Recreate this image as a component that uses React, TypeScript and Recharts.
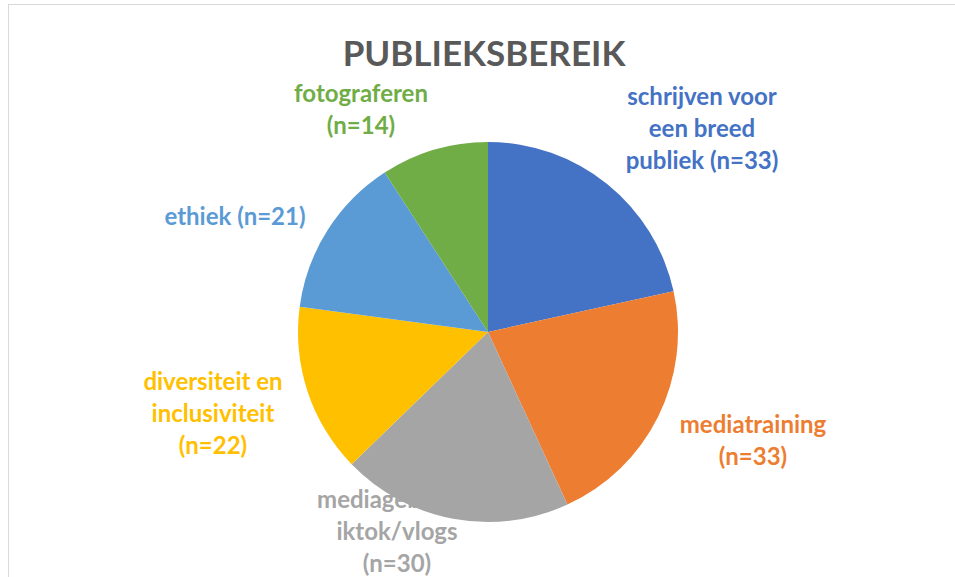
import { PieChart, Pie, Cell } from "recharts";

const categories = [
  "schrijven voor een breed publiek",
  "mediatraining",
  "mediagebruik tiktok/vlogs",
  "diversiteit en inclusiviteit",
  "ethiek",
  "fotograferen",
];
const counts = [33, 33, 30, 22, 21, 14];
// label text as it wraps in the original
const labelLines = [
  ["schrijven voor", "een breed", "publiek (n=33)"],
  ["mediatraining", "(n=33)"],
  ["mediagebruik t", "iktok/vlogs", "(n=30)"],
  ["diversiteit en", "inclusiviteit", "(n=22)"],
  ["ethiek (n=21)"],
  ["fotograferen", "(n=14)"],
];
const colors = ["#4472C4", "#ED7D31", "#A5A5A5", "#FFC000", "#5B9BD5", "#70AD47"];

// where each label block sits, relative to the pie centre
const labelOffsets = [
  [214, -205],
  [265, 107],
  [-91, 198],
  [-275, 80],
  [-253, -117],
  [-127, -224],
];

const data = categories.map((name, i) => ({ name, value: counts[i] }));

const FONT = "Lato, 'Open Sans', sans-serif";

const renderLabel = (props: any) => {
  const { cx, cy, index } = props;
  const [dx, dy] = labelOffsets[index];
  const lines = labelLines[index];
  const lh = 32;
  return (
    <text
      key={index}
      x={cx + dx}
      y={cy + dy}
      textAnchor="middle"
      fill={colors[index]}
      fontFamily={FONT}
      fontWeight={700}
      fontSize={24}
    >
      {lines.map((l, j) => (
        <tspan
          key={j}
          x={cx + dx}
          y={cy + dy + (j - (lines.length - 1) / 2) * lh}
          dominantBaseline="central"
        >
          {l}
        </tspan>
      ))}
    </text>
  );
};

const App = () => {
  return (
    <div
      style={{
        position: "absolute",
        left: 8,
        top: 4,
        width: 947,
        height: 573,
        borderTop: "1px solid #d9d9d9",
        borderLeft: "1px solid #d9d9d9",
        background: "#fff",
      }}
    >
      <div
        style={{
          position: "absolute",
          left: 0,
          top: 26,
          width: 950,
          textAlign: "center",
          fontFamily: FONT,
          fontWeight: 700,
          fontSize: 35,
          lineHeight: "42px",
          color: "#595959",
        }}
      >
        PUBLIEKSBEREIK
      </div>
      <PieChart width={947} height={573} style={{ position: "absolute", left: 0, top: 0 }}>
        {/* labels first so the pie is painted over them */}
        <Pie
          data={data}
          dataKey="value"
          nameKey="name"
          cx={474}
          cy={322}
          outerRadius={190}
          startAngle={90}
          endAngle={-270}
          fill="transparent"
          stroke="none"
          label={renderLabel}
          labelLine={false}
          isAnimationActive={false}
        />
        <Pie
          data={data}
          dataKey="value"
          nameKey="name"
          cx={474}
          cy={322}
          outerRadius={190}
          startAngle={90}
          endAngle={-270}
          stroke="none"
          isAnimationActive={false}
        >
          {data.map((d, i) => (
            <Cell key={d.name} fill={colors[i]} />
          ))}
        </Pie>
      </PieChart>
    </div>
  );
};

export default App;
